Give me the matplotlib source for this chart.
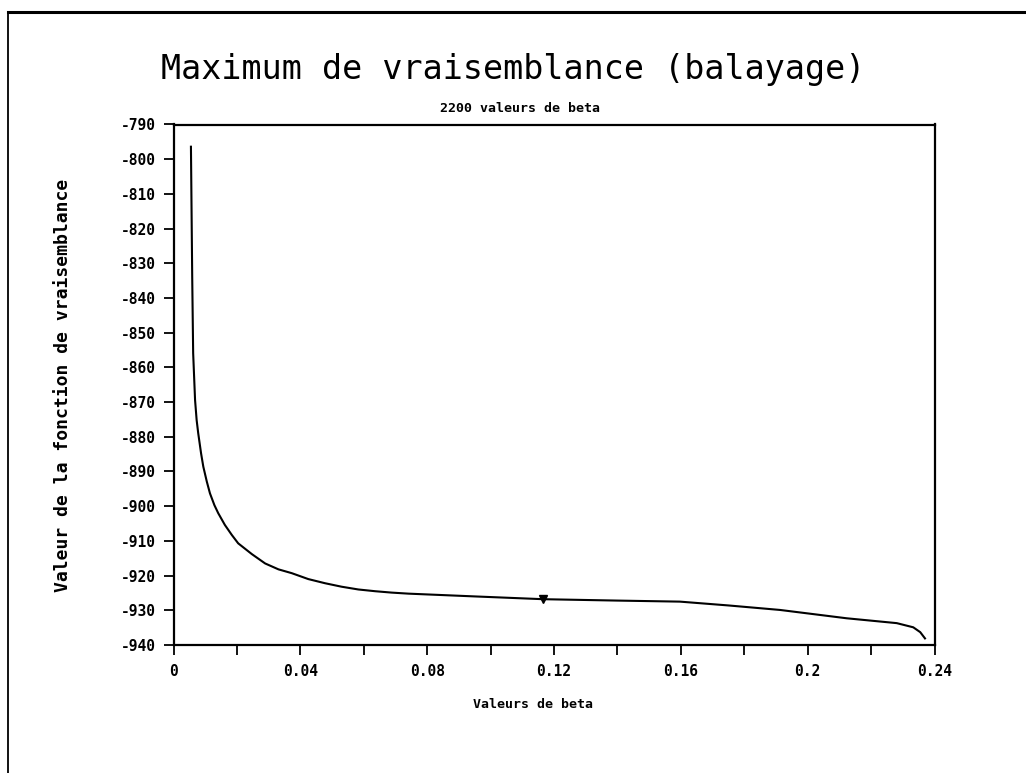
import matplotlib
matplotlib.use("Agg")
import matplotlib.pyplot as plt
from matplotlib.lines import Line2D
from matplotlib.ticker import MultipleLocator, FixedLocator

# Data
beta = [0.0055, 0.0059, 0.0062, 0.0068, 0.0073, 0.0078, 0.0087, 0.0094, 0.0105, 0.0115,
        0.0129, 0.0141, 0.0162, 0.0184, 0.0204, 0.0247, 0.0289, 0.0331, 0.0373, 0.0425,
        0.0478, 0.0530, 0.0583, 0.0636, 0.0688, 0.0741, 0.0793, 0.0950, 0.1166,
        0.1400, 0.1597, 0.1750, 0.1913, 0.2123, 0.2281, 0.2333, 0.2355, 0.2370]
vraisemblance = [-796.4, -833.9, -855.9, -869.4, -875.2, -879.0, -884.8, -888.6, -892.9, -896.3,
                 -899.7, -902.0, -905.4, -908.3, -910.7, -913.8, -916.5, -918.2, -919.3, -921.0,
                 -922.2, -923.2, -924.0, -924.5, -924.9, -925.2, -925.4, -926.0, -926.8,
                 -927.2, -927.5, -928.6, -929.9, -932.3, -933.7, -934.9, -936.3, -938.1]
marker_beta = [0.1166]
marker_val = [-926.8]

x_ticks = [0, 0.04, 0.08, 0.12, 0.16, 0.2, 0.24]
x_ticklabels = ["0", "0.04", "0.08", "0.12", "0.16", "0.2", "0.24"]
y_ticks = list(range(-940, -789, 10))

title = "Maximum de vraisemblance (balayage)"
subtitle = "2200 valeurs de beta"
xlabel = "Valeurs de beta"
ylabel = "Valeur de la fonction de vraisemblance"

mono = "DejaVu Sans Mono"

W, H = 1026, 773
fig = plt.figure(figsize=(W / 100, H / 100), dpi=100)
fig.patch.set_facecolor("white")

left, right, top, bottom = 173.5, 934.5, 124.5, 645
ax = fig.add_axes([left / W, 1 - bottom / H, (right - left) / W, (bottom - top) / H])

ax.plot(beta, vraisemblance, color="black", linewidth=1.5)
ax.plot(marker_beta, marker_val, linestyle="none", marker="v", color="black", markersize=6)

ax.set_xlim(0, 0.24)
ax.set_ylim(-940, -790)
ax.xaxis.set_major_locator(FixedLocator(x_ticks))
ax.set_xticklabels(x_ticklabels)
ax.xaxis.set_minor_locator(MultipleLocator(0.02))
ax.set_yticks(y_ticks)
ax.set_yticklabels([str(v) for v in y_ticks])

for s in ax.spines.values():
    s.set_linewidth(1.6)
ax.tick_params(axis="both", which="both", direction="out", length=7.5, width=1.3,
               colors="black")
ax.tick_params(axis="y", pad=5)
ax.tick_params(axis="x", pad=6)
for lab in ax.get_xticklabels() + ax.get_yticklabels():
    lab.set_fontfamily(mono)
    lab.set_fontweight("bold")
    lab.set_fontsize(10.5)

fig.text(513 / W, 1 - 70 / H, title, family=mono, fontsize=24, ha="center", va="center")
fig.text(520 / W, 1 - 108 / H, subtitle, family=mono, fontsize=9.5, fontweight="bold",
         ha="center", va="center")
fig.text(533 / W, 1 - 705 / H, xlabel, family=mono, fontsize=9.5, fontweight="bold",
         ha="center", va="center")
fig.text(63 / W, 1 - 385 / H, ylabel, family=mono, fontsize=13, fontweight="bold",
         ha="center", va="center", rotation=90)

# page frame (top and left borders)
fig.add_artist(Line2D([8 / W, 1.0], [1 - 12 / H, 1 - 12 / H], transform=fig.transFigure,
                      color="black", linewidth=2.2))
fig.add_artist(Line2D([8 / W, 8 / W], [1 - 12 / H, 0.0], transform=fig.transFigure,
                      color="black", linewidth=1.3))

fig.savefig("out.png", dpi=100, facecolor="white")
